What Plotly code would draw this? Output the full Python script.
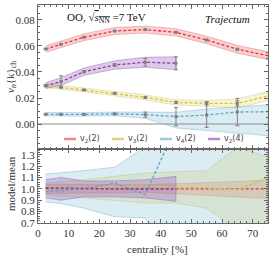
import plotly.graph_objects as go

# ---------------- data ----------------
cent = [2.5, 7.5, 15, 25, 35, 45, 55, 65, 75]
cent_v24 = [2.5, 7.5, 15, 25, 35, 45]

# upper panel: v_n{k}
v22 = [0.0577, 0.0613, 0.0667, 0.0715, 0.0726, 0.0705, 0.0646, 0.0575, 0.0525]
v22_lo = [0.0552, 0.0588, 0.0641, 0.0688, 0.0699, 0.0677, 0.0617, 0.0545, 0.0495]
v22_hi = [0.0602, 0.0638, 0.0693, 0.0742, 0.0753, 0.0733, 0.0675, 0.0605, 0.0555]
v22_err = [0.0003, 0.0003, 0.0003, 0.0003, 0.0004, 0.0004, 0.0005, 0.0006]

v32 = [0.0295, 0.0282, 0.0262, 0.0236, 0.0205, 0.0166, 0.0159, 0.0158, 0.0215]
v32_lo = [0.0280, 0.0267, 0.0247, 0.0219, 0.0186, 0.0146, 0.0137, 0.0123, 0.0180]
v32_hi = [0.0310, 0.0297, 0.0277, 0.0253, 0.0224, 0.0186, 0.0181, 0.0193, 0.0250]
v32_err = [0.0004, 0.0004, 0.0004, 0.0005, 0.0006, 0.0008, 0.0012, 0.0020]

v42 = [0.0075, 0.0074, 0.0074, 0.0078, 0.0072, 0.0057, 0.0069, 0.0092, 0.0095]
v42_lo = [0.0062, 0.0061, 0.0061, 0.0064, 0.0044, -0.0030, -0.0050, -0.0070, -0.0090]
v42_hi = [0.0088, 0.0087, 0.0087, 0.0092, 0.0092, 0.0090, 0.0115, 0.0133, 0.0148]
v42_err = [0.0004, 0.0004, 0.0004, 0.0006, 0.0020, 0.0070, 0.0095, 0.0105]

v24 = [0.0295, 0.0326, 0.0402, 0.0454, 0.0475, 0.0467]
v24_lo = [0.0273, 0.0296, 0.0374, 0.0422, 0.0437, 0.0417]
v24_hi = [0.0317, 0.0356, 0.0430, 0.0486, 0.0513, 0.0517]
v24_err = [0.0008, 0.0045, 0.0008, 0.0010, 0.0030, 0.0050]

# lower panel: model / mean
r22 = [1.003, 1.0, 1.0, 1.0, 0.998, 1.0, 1.0, 1.0, 1.0]
r22_lo = [0.96, 0.96, 0.96, 0.965, 0.97, 0.955, 0.945, 0.93, 0.915]
r22_hi = [1.04, 1.04, 1.04, 1.035, 1.035, 1.045, 1.055, 1.065, 1.075]

r32 = [1.02, 1.01, 1.01, 1.02, 1.03, 1.01, 1.01, 0.99, 1.10]
r32_lo = [0.95, 0.94, 0.92, 0.90, 0.875, 0.875, 0.83, 0.64, 0.62]
r32_hi = [1.05, 1.06, 1.08, 1.11, 1.14, 1.15, 1.16, 1.37, 1.28]

r42 = [0.975, 0.985, 1.0, 1.05, 0.95, 1.55]
r42_lo = [0.885, 0.87, 0.83, 0.755, 0.745, 0.30, 0.20, 0.20, 0.20]
r42_hi = [1.13, 1.14, 1.16, 1.19, 1.37, 2.0, 2.5, 2.0, 2.0]

r24 = [1.01, 1.01, 1.005, 1.0, 1.0, 1.0]
r24_lo = [0.92, 0.90, 0.93, 0.93, 0.92, 0.89]
r24_hi = [1.08, 1.10, 1.07, 1.07, 1.08, 1.11]

labels = ["v<sub>2</sub>(2)", "v<sub>3</sub>(2)", "v<sub>4</sub>(2)", "v<sub>2</sub>(4)"]

# ---------------- style ----------------
COL = ["#e2363c", "#d2c24c", "#5aa6c6", "#8a3fa6"]
LEG = ["#ee8a8d", "#e0d37e", "#9ccbe0", "#bb86cf"]
FILL = ["rgba(238,110,115,0.33)", "rgba(228,214,110,0.30)",
        "rgba(120,180,210,0.26)", "rgba(150,80,180,0.30)"]
EDGE = ["rgba(230,110,115,0.55)", "rgba(210,200,110,0.55)",
        "rgba(120,175,205,0.55)", "rgba(150,90,180,0.55)"]
SERIF = "Liberation Serif"
GRAY = "#808080"

fig = go.Figure()

def band(x, lo, hi, i, xa, ya):
    fig.add_trace(go.Scatter(
        x=list(x) + list(x)[::-1], y=list(hi) + list(lo)[::-1],
        fill="toself", fillcolor=FILL[i], mode="lines",
        line=dict(color=EDGE[i], width=0.8), hoverinfo="skip",
        showlegend=False, xaxis=xa, yaxis=ya))

def dline(x, y, i, xa, ya):
    fig.add_trace(go.Scatter(
        x=x, y=y, mode="lines",
        line=dict(color=COL[i], width=1.3, dash="3px,2px"),
        showlegend=False, xaxis=xa, yaxis=ya))

def pts(x, y, e, xa, ya):
    fig.add_trace(go.Scatter(
        x=x, y=y, mode="markers",
        marker=dict(symbol="square", size=3, color=GRAY),
        error_y=dict(type="data", array=e, color=GRAY, thickness=1, width=2),
        showlegend=False, xaxis=xa, yaxis=ya))

upper = [(cent, v22, v22_lo, v22_hi, v22_err),
         (cent, v32, v32_lo, v32_hi, v32_err),
         (cent, v42, v42_lo, v42_hi, v42_err),
         (cent_v24, v24, v24_lo, v24_hi, v24_err)]
lower = [(cent, r22, r22_lo, r22_hi),
         (cent, r32, r32_lo, r32_hi),
         (cent, r42, r42_lo, r42_hi),
         (cent_v24, r24, r24_lo, r24_hi)]

for i, (x, v, lo, hi, e) in enumerate(upper):
    band(x, lo, hi, i, "x2", "y2")
for i, (x, v, lo, hi, e) in enumerate(upper):
    dline(x, v, i, "x2", "y2")
for i, (x, v, lo, hi, e) in enumerate(upper):
    pts(x[:len(e)], v[:len(e)], e, "x2", "y2")

for i, (x, v, lo, hi) in enumerate(lower):
    band(x, lo, hi, i, "x", "y")
for i, (x, v, lo, hi) in enumerate(lower):
    dline(x[:len(v)], v, i, "x", "y")

# ---------------- layout ----------------
H_TOT = 218.0
split = 74.0 / H_TOT
axcommon = dict(showline=True, linecolor="#666", linewidth=1, mirror="allticks",
                ticks="inside", ticklen=4, tickcolor="#666", showgrid=False,
                zeroline=False, tickfont=dict(family=SERIF, size=11, color="#333"))

fig.update_layout(
    width=274, height=257,
    margin=dict(l=38, r=6, t=5, b=34),
    plot_bgcolor="white", paper_bgcolor="white",
    showlegend=False,
    xaxis=dict(domain=[0, 1], anchor="y", range=[0, 75],
               tickvals=[0, 10, 20, 30, 40, 50, 60, 70],
               minor=dict(ticks="inside", ticklen=2, dtick=2, tickcolor="#666"),
               **axcommon),
    xaxis2=dict(domain=[0, 1], anchor="y2", range=[0, 75], matches="x",
                tickvals=[0, 10, 20, 30, 40, 50, 60, 70], showticklabels=False,
                minor=dict(ticks="inside", ticklen=2, dtick=2, tickcolor="#666"),
                **axcommon),
    yaxis=dict(domain=[0, split], anchor="x", range=[0.7, 1.35],
               tickvals=[0.7, 0.8, 0.9, 1.0, 1.1, 1.2, 1.3], tickformat=".1f",
               minor=dict(ticks="inside", ticklen=2, dtick=0.02, tickcolor="#666"),
               **axcommon),
    yaxis2=dict(domain=[split, 1], anchor="x2", range=[-0.0192, 0.0915],
                tickvals=[0, 0.02, 0.04, 0.06, 0.08], tickformat=".2f",
                minor=dict(ticks="inside", ticklen=2, dtick=0.005, tickcolor="#666"),
                **axcommon),
)
fig.update_yaxes(selector=dict(anchor="x2"), zeroline=True,
                 zerolinecolor="#c4c4c4", zerolinewidth=2)

# text annotations
def px2paper_x(px):
    return (px - 38) / 230.0

def px2paper_y(py):
    return (223 - py) / H_TOT

anns = [
    dict(text="OO, √<span style='text-decoration:overline'><i>s</i><sub>NN</sub></span> =7 TeV",
         x=px2paper_x(65), y=px2paper_y(18), xanchor="left", yanchor="middle",
         font=dict(family=SERIF, size=11, color="#111")),
    dict(text="<i>Trajectum</i>", x=px2paper_x(203), y=px2paper_y(19),
         xanchor="left", yanchor="middle",
         font=dict(family=SERIF, size=11, color="#111")),
    dict(text="<i>v<sub>n</sub></i>{k}<sub>ch</sub>", x=px2paper_x(11), y=px2paper_y(77),
         xanchor="center", yanchor="middle", textangle=-90,
         font=dict(family=SERIF, size=11, color="#333")),
    dict(text="model/mean", x=px2paper_x(11), y=px2paper_y(184),
         xanchor="center", yanchor="middle", textangle=-90,
         font=dict(family=SERIF, size=11, color="#333")),
    dict(text="centrality [%]", x=px2paper_x(157), y=px2paper_y(249),
         xanchor="center", yanchor="middle",
         font=dict(family=SERIF, size=11, color="#333")),
]
shapes = []
for i, lab in enumerate(labels):
    x0 = 64 + 48 * i
    shapes.append(dict(type="line", xref="paper", yref="paper",
                       x0=px2paper_x(x0), x1=px2paper_x(x0 + 12),
                       y0=px2paper_y(139), y1=px2paper_y(139),
                       line=dict(color=LEG[i], width=2.5)))
    anns.append(dict(text=lab, x=px2paper_x(x0 + 14), y=px2paper_y(139),
                     xanchor="left", yanchor="middle",
                     font=dict(family="DejaVu Sans", size=8, color="#444")))
for a in anns:
    a.update(xref="paper", yref="paper", showarrow=False)
fig.update_layout(annotations=anns, shapes=shapes)

fig.write_html("out.html", config={"displayModeBar": False},
               post_script="document.body.style.margin='0';document.body.style.overflow='hidden';")
